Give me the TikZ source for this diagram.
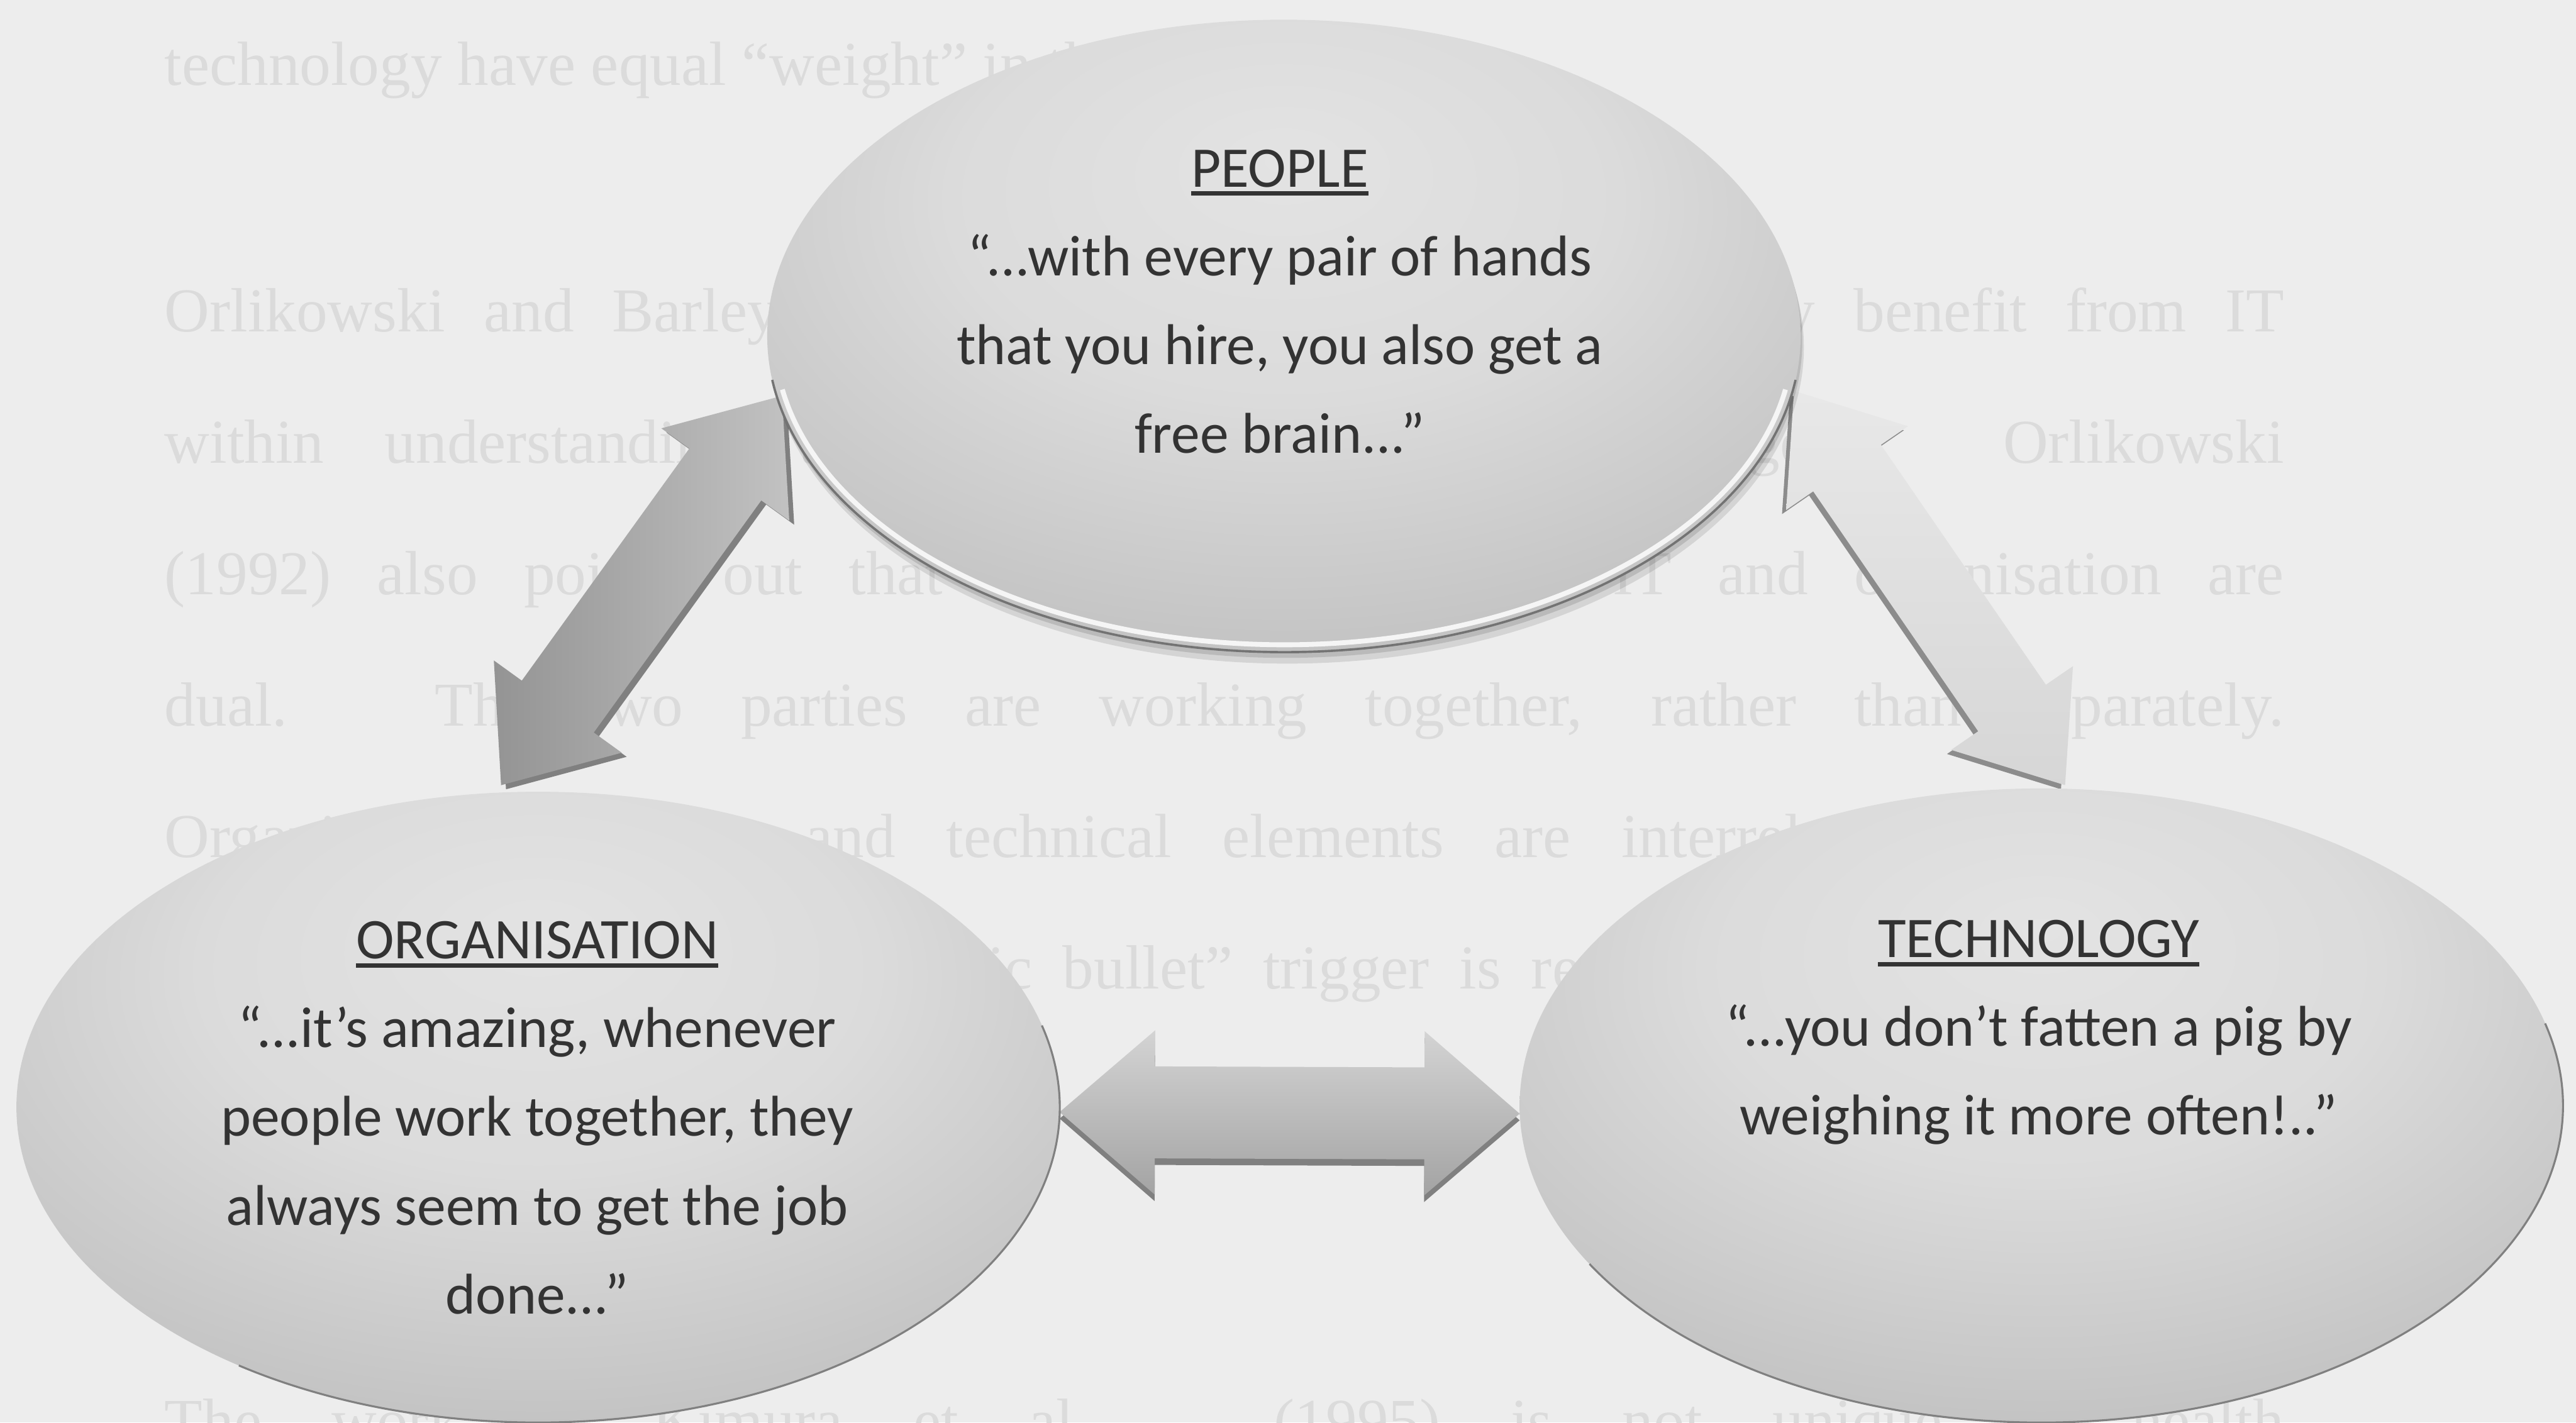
\documentclass[tikz,border=0pt]{standalone}
\usepackage{fontspec}
\setmainfont{Carlito}
\newfontfamily\ghostfont{Liberation Serif}
\usetikzlibrary{shapes.geometric,calc}

% soft spherical shading for the three ovals
\pgfdeclareradialshading{orbshade}{\pgfpoint{0bp}{14bp}}{%
  color(0bp)=(black!11); color(16bp)=(black!14); color(32bp)=(black!23);
  color(44bp)=(black!33); color(50bp)=(black!40); color(72bp)=(black!40)}

% underlined heading with a heavy rule
\newcommand{\ulhead}[1]{\leavevmode\vtop{\hbox{#1}\kern2.5pt\hrule height 2.6pt}}

% double-headed block arrow: #1 style, #2 tip A, #3 tip B,
% #4 head length, #5 shaft half width, #6 head half width
\newcommand{\blockarrow}[6]{%
  \path[#1] (#2)
   -- ($(#2)!#4!(#3)!#6!90:(#3)$)
   -- ($(#2)!#4!(#3)!#5!90:(#3)$)
   -- ($(#3)!#4!(#2)!#5!-90:(#2)$)
   -- ($(#3)!#4!(#2)!#6!-90:(#2)$)
   -- (#3)
   -- ($(#3)!#4!(#2)!#6!90:(#2)$)
   -- ($(#3)!#4!(#2)!#5!90:(#2)$)
   -- ($(#2)!#4!(#3)!#5!-90:(#3)$)
   -- ($(#2)!#4!(#3)!#6!-90:(#3)$)
   -- cycle;}

\begin{document}
\begin{tikzpicture}[x=1pt,y=-1pt,
  orb/.style={ellipse, inner sep=0pt, outer sep=0pt, shade, shading=orbshade},
  quote/.style={align=center, inner sep=0pt, text=black!80,
                font=\fontsize{35}{54}\selectfont},
  ghost/.style={inner sep=0pt, anchor=base west, text=black!14,
                font=\ghostfont\fontsize{38}{38}\selectfont},
  rimdark/.style={draw=black!55, line width=1.4pt},
  rimlight/.style={draw=black!4, line width=3pt},
  arrowshadow/.style={fill=black!50},
]
\useasboundingbox (0,0) rectangle (1568,866);
\fill[black!7] (0,0) rectangle (1568,866);

% faint page text behind the figure
\node[ghost] (g1) at (100,52) {technology have equal “weight” in the};
\node[ghost] (g2) at (100,202) {\makebox[1290pt][s]{Orlikowski and Barley (2001) posits that organisations may benefit from IT}};
\node[ghost] (g3) at (100,282) {\makebox[1290pt][s]{within understanding the technology and social changes. Orlikowski}};
\node[ghost] (g4) at (100,362) {\makebox[1290pt][s]{(1992) also points out that the characteristics of IT and organisation are}};
\node[ghost] (g5) at (100,442) {\makebox[1290pt][s]{dual. The two parties are working together, rather than separately.}};
\node[ghost] (g6) at (100,522) {\makebox[1290pt][s]{Organisational culture and technical elements are interrelated and interact}};
\node[ghost] (g7) at (100,602) {\makebox[1290pt][s]{with each other, and the “magic bullet” trigger is regarded as a misconception}};
\node[ghost] (g8) at (100,878) {\makebox[1290pt][s]{The work of Kimura et al. (1995) is not unique in health}};

% arrow end points
\coordinate (orgT)  at (305,478);
\coordinate (pplL)  at (476,241);
\coordinate (pplR)  at (1092,238);
\coordinate (techT) at (1257,478);
\coordinate (orgR)  at (645,677);
\coordinate (techL) at (925,678);

% block arrows with their dark bevel edges
\begin{scope}[transform canvas={shift={(3pt,-2.5pt)}}]
  \blockarrow{arrowshadow}{orgT}{pplL}{59pt}{27pt}{48pt}
\end{scope}
\blockarrow{left color=black!42, right color=black!24}{orgT}{pplL}{59pt}{27pt}{48pt}

\begin{scope}[transform canvas={shift={(-2.5pt,-2.5pt)}}]
  \blockarrow{fill=black!45}{pplR}{techT}{57pt}{25pt}{45pt}
\end{scope}
\blockarrow{top color=black!9, bottom color=black!16}{pplR}{techT}{57pt}{25pt}{45pt}

\begin{scope}[transform canvas={shift={(0pt,-4pt)}}]
  \blockarrow{arrowshadow}{orgR}{techL}{58pt}{28pt}{50pt}
\end{scope}
\blockarrow{top color=black!17, bottom color=black!36}{orgR}{techL}{58pt}{28pt}{50pt}

% the three ovals
\node[orb, minimum width=635pt, minimum height=384pt] (org) at (327.5,674) {};
\node[orb, minimum width=635pt, minimum height=386pt] (tech) at (1242.5,673) {};

\fill[black, opacity=.10] ($(781.5,204.5)+(2,7)$) ellipse [x radius=314.5, y radius=192.5];
\fill[black, opacity=.12] ($(781.5,204.5)+(1,3.5)$) ellipse [x radius=314.5, y radius=192.5];
\node[orb, minimum width=629pt, minimum height=385pt] (people) at (781.5,204.5) {};

% bevelled rims
\draw[rimdark] ($(people.center)+(8:314.5 and 192.5)$)
  arc[start angle=8, end angle=172, x radius=314.5, y radius=192.5];
\draw[rimlight] ($(people.center)+(10:310 and 188)$)
  arc[start angle=10, end angle=170, x radius=310, y radius=188];
\draw[draw=black!50, line width=1.2pt] ($(org.center)+(-15:317.5 and 192)$)
  arc[start angle=-15, end angle=125, x radius=317.5, y radius=192];
\draw[draw=black!50, line width=1.2pt] ($(tech.center)+(-15:317.5 and 193)$)
  arc[start angle=-15, end angle=150, x radius=317.5, y radius=193];

% quotations
\node[quote] (peopletext) at (779,183.5) {\ulhead{PEOPLE}\\
  “...with every pair of hands\\ that you hire, you also get a\\ free brain...”};
\node[quote] (orgtext) at (327,680.5) {\ulhead{ORGANISATION}\\
  “...it’s amazing, whenever\\ people work together, they\\ always seem to get the job\\ done...”};
\node[quote] (techtext) at (1241,628.5) {\ulhead{TECHNOLOGY}\\
  “...you don’t fatten a pig by\\ weighing it more often!..”};
\end{tikzpicture}
\end{document}
